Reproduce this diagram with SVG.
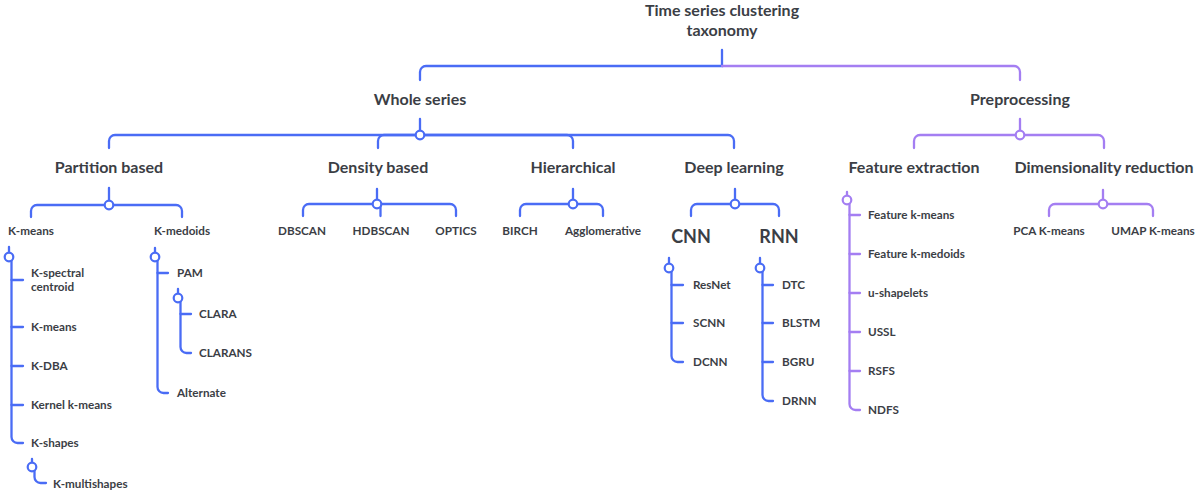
<svg xmlns="http://www.w3.org/2000/svg" width="1203" height="493" viewBox="0 0 1203 493">
  <style>
    text { font-family: Lato, "Open Sans", "Liberation Sans", sans-serif; fill: #3b3e45; }
    .title { font-size: 16px; font-weight: 700; text-anchor: middle; }
    .l1 { font-size: 16px; font-weight: 700; text-anchor: middle; }
    .l2 { font-size: 16px; font-weight: 700; text-anchor: middle; }
    .l3 { font-size: 11.7px; font-weight: 700; text-anchor: middle; }
    .big { font-size: 18px; font-weight: 700; text-anchor: middle; }
    .leaf { font-size: 11.7px; font-weight: 700; }
    .b { fill: none; stroke: #4a6cf5; stroke-width: 2.3; stroke-linecap: round; }
    .p { fill: none; stroke: #a47ef2; stroke-width: 2.3; stroke-linecap: round; }
    .jb { fill: #ffffff; stroke: #4a6cf5; stroke-width: 2.2; }
    .jp { fill: #ffffff; stroke: #a47ef2; stroke-width: 2.2; }
  </style>

  <!-- connectors -->
  <g id="connectors">
    <!-- root split -->
    <path class="b" d="M722,50 V66 H426 A6,6 0 0 0 420,72 V80"/>
    <path class="p" d="M722,66 H1014 A6,6 0 0 1 1020,72 V80"/>

    <!-- Whole series -->
    <path class="b" d="M420,119 V131"/>
    <path class="b" d="M420,135 H115 A6,6 0 0 0 109,141 V148"/>
    <path class="b" d="M420,135 H384 A6,6 0 0 0 378,141 V148"/>
    <path class="b" d="M420,135 H567 A6,6 0 0 1 573,141 V148"/>
    <path class="b" d="M420,135 H728 A6,6 0 0 1 734,141 V148"/>
    <circle class="jb" cx="420" cy="135" r="4.3"/>

    <!-- Preprocessing -->
    <path class="p" d="M1020,119 V131"/>
    <path class="p" d="M1020,135 H920 A6,6 0 0 0 914,141 V148"/>
    <path class="p" d="M1020,135 H1098 A6,6 0 0 1 1104,141 V148"/>
    <circle class="jp" cx="1020" cy="135" r="4.3"/>

    <!-- Partition based -->
    <path class="b" d="M109,188 V201"/>
    <path class="b" d="M109,205 H37 A6,6 0 0 0 31,211 V217"/>
    <path class="b" d="M109,205 H176 A6,6 0 0 1 182,211 V217"/>
    <circle class="jb" cx="109" cy="205" r="4.3"/>

    <!-- Density based -->
    <path class="b" d="M377,189 V200"/>
    <path class="b" d="M377,204 H309 A6,6 0 0 0 303,210 V216"/>
    <path class="b" d="M380.5,206 V216"/>
    <path class="b" d="M377,204 H450 A6,6 0 0 1 456,210 V216"/>
    <circle class="jb" cx="377" cy="204" r="4.3"/>

    <!-- Hierarchical -->
    <path class="b" d="M573,189 V200"/>
    <path class="b" d="M573,204 H526 A6,6 0 0 0 520,210 V216"/>
    <path class="b" d="M573,204 H597 A6,6 0 0 1 603,210 V216"/>
    <circle class="jb" cx="573" cy="204" r="4.3"/>

    <!-- Deep learning -->
    <path class="b" d="M735,189 V200"/>
    <path class="b" d="M735,204 H697 A6,6 0 0 0 691,210 V216"/>
    <path class="b" d="M735,204 H773 A6,6 0 0 1 779,210 V216"/>
    <circle class="jb" cx="735" cy="204" r="4.3"/>

    <!-- Dimensionality reduction -->
    <path class="p" d="M1103,190 V200"/>
    <path class="p" d="M1103,204 H1055 A6,6 0 0 0 1049,210 V216"/>
    <path class="p" d="M1103,204 H1147 A6,6 0 0 1 1153,210 V216"/>
    <circle class="jp" cx="1103" cy="204" r="4.3"/>

    <!-- K-means list -->
    <path class="b" d="M9,247 V253"/>
    <path class="b" d="M11.5,260 V437 A6,6 0 0 0 17.5,443 H23"/>
    <path class="b" d="M11.5,280 H23"/>
    <path class="b" d="M11.5,327 H23"/>
    <path class="b" d="M11.5,366 H23"/>
    <path class="b" d="M11.5,405 H23"/>
    <circle class="jb" cx="9" cy="257" r="4.3"/>

    <!-- K-shapes sub-list -->
    <path class="b" d="M32,459 V463"/>
    <path class="b" d="M34.5,470 V477 A6,6 0 0 0 40.5,483 H46"/>
    <circle class="jb" cx="32" cy="467" r="4.3"/>

    <!-- K-medoids list -->
    <path class="b" d="M155,248 V253"/>
    <path class="b" d="M157.5,260 V387 A6,6 0 0 0 163.5,393 H168"/>
    <path class="b" d="M157.5,273 H168"/>
    <circle class="jb" cx="155" cy="257" r="4.3"/>

    <!-- PAM sub-list -->
    <path class="b" d="M178,289 V294"/>
    <path class="b" d="M180.5,301 V347 A6,6 0 0 0 186.5,353 H191"/>
    <path class="b" d="M180.5,314 H191"/>
    <circle class="jb" cx="178" cy="298" r="4.3"/>

    <!-- CNN list -->
    <path class="b" d="M669,258 V264"/>
    <path class="b" d="M671.5,271 V356 A6,6 0 0 0 677.5,362 H683"/>
    <path class="b" d="M671.5,285 H683"/>
    <path class="b" d="M671.5,323 H683"/>
    <circle class="jb" cx="669" cy="268" r="4.3"/>

    <!-- RNN list -->
    <path class="b" d="M760,258 V264"/>
    <path class="b" d="M762.5,271 V395 A6,6 0 0 0 768.5,401 H773"/>
    <path class="b" d="M762.5,285 H773"/>
    <path class="b" d="M762.5,323 H773"/>
    <path class="b" d="M762.5,362 H773"/>
    <circle class="jb" cx="760" cy="268" r="4.3"/>

    <!-- Feature extraction list -->
    <path class="p" d="M847,192 V196"/>
    <path class="p" d="M849.5,203 V404 A6,6 0 0 0 855.5,410 H860"/>
    <path class="p" d="M849.5,215 H860"/>
    <path class="p" d="M849.5,254 H860"/>
    <path class="p" d="M849.5,293 H860"/>
    <path class="p" d="M849.5,332 H860"/>
    <path class="p" d="M849.5,371 H860"/>
    <circle class="jp" cx="847" cy="200" r="4.3"/>
  </g>

  <!-- root -->
  <g id="root">
    <text class="title" x="722" y="15.5">Time series clustering</text>
    <text class="title" x="722" y="35.5">taxonomy</text>
  </g>

  <g id="whole-series"><text class="l1" x="420" y="104.5">Whole series</text></g>
  <g id="preprocessing"><text class="l1" x="1020" y="104.5">Preprocessing</text></g>

  <g id="partition-based"><text class="l2" x="109" y="172.5">Partition based</text></g>
  <g id="density-based"><text class="l2" x="378" y="172.5">Density based</text></g>
  <g id="hierarchical"><text class="l2" x="573" y="172.5">Hierarchical</text></g>
  <g id="deep-learning"><text class="l2" x="734" y="172.5">Deep learning</text></g>
  <g id="feature-extraction"><text class="l2" x="914" y="172.5">Feature extraction</text></g>
  <g id="dimensionality-reduction"><text class="l2" x="1104" y="172.5">Dimensionality reduction</text></g>

  <g id="k-means-group"><text class="l3" x="31" y="235">K-means</text></g>
  <g id="k-medoids-group"><text class="l3" x="182" y="235">K-medoids</text></g>
  <g id="dbscan"><text class="l3" x="302" y="235">DBSCAN</text></g>
  <g id="hdbscan"><text class="l3" x="381" y="235">HDBSCAN</text></g>
  <g id="optics"><text class="l3" x="456" y="235">OPTICS</text></g>
  <g id="birch"><text class="l3" x="520" y="235">BIRCH</text></g>
  <g id="agglomerative"><text class="l3" x="603" y="235">Agglomerative</text></g>
  <g id="cnn"><text class="big" x="691" y="243">CNN</text></g>
  <g id="rnn"><text class="big" x="779" y="243">RNN</text></g>
  <g id="pca-k-means"><text class="l3" x="1049" y="235">PCA K-means</text></g>
  <g id="umap-k-means"><text class="l3" x="1153" y="235">UMAP K-means</text></g>

  <!-- K-means variants -->
  <g id="k-spectral-centroid">
    <text class="leaf" x="31" y="277">K-spectral</text>
    <text class="leaf" x="31" y="291">centroid</text>
  </g>
  <g id="k-means"><text class="leaf" x="31" y="331">K-means</text></g>
  <g id="k-dba"><text class="leaf" x="31" y="370">K-DBA</text></g>
  <g id="kernel-k-means"><text class="leaf" x="31" y="409">Kernel k-means</text></g>
  <g id="k-shapes"><text class="leaf" x="31" y="447">K-shapes</text></g>
  <g id="k-multishapes"><text class="leaf" x="53" y="488">K-multishapes</text></g>

  <!-- K-medoids variants -->
  <g id="pam"><text class="leaf" x="177" y="277">PAM</text></g>
  <g id="clara"><text class="leaf" x="199" y="318">CLARA</text></g>
  <g id="clarans"><text class="leaf" x="199" y="357">CLARANS</text></g>
  <g id="alternate"><text class="leaf" x="177" y="397">Alternate</text></g>

  <!-- CNN models -->
  <g id="resnet"><text class="leaf" x="693" y="289">ResNet</text></g>
  <g id="scnn"><text class="leaf" x="693" y="327">SCNN</text></g>
  <g id="dcnn"><text class="leaf" x="693" y="366">DCNN</text></g>

  <!-- RNN models -->
  <g id="dtc"><text class="leaf" x="782" y="289">DTC</text></g>
  <g id="blstm"><text class="leaf" x="782" y="327">BLSTM</text></g>
  <g id="bgru"><text class="leaf" x="782" y="366">BGRU</text></g>
  <g id="drnn"><text class="leaf" x="782" y="405">DRNN</text></g>

  <!-- Feature extraction methods -->
  <g id="feature-k-means"><text class="leaf" x="868" y="219">Feature k-means</text></g>
  <g id="feature-k-medoids"><text class="leaf" x="868" y="258">Feature k-medoids</text></g>
  <g id="u-shapelets"><text class="leaf" x="868" y="297">u-shapelets</text></g>
  <g id="ussl"><text class="leaf" x="868" y="336">USSL</text></g>
  <g id="rsfs"><text class="leaf" x="868" y="375">RSFS</text></g>
  <g id="ndfs"><text class="leaf" x="868" y="414">NDFS</text></g>
</svg>
